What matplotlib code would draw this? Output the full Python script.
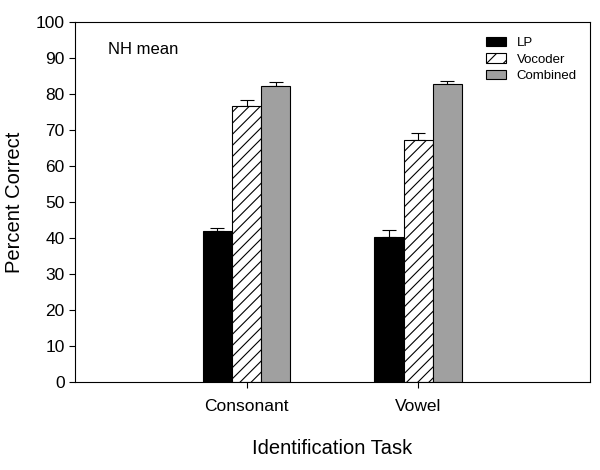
import matplotlib
matplotlib.use("Agg")
import matplotlib.pyplot as plt
import numpy as np
from matplotlib.patches import Patch

plt.rcParams['font.family'] = ['Liberation Sans', 'DejaVu Sans']
plt.rcParams['hatch.linewidth'] = 0.8

tasks = ["Consonant", "Vowel"]
conditions = ["LP", "Vocoder", "Combined"]
means = {
    "LP": [41.9, 40.3],
    "Vocoder": [76.7, 67.2],
    "Combined": [82.2, 82.7],
}
errs = {
    "LP": [0.9, 1.9],
    "Vocoder": [1.6, 2.1],
    "Combined": [1.2, 1.0],
}

colors = {"LP": "black", "Vocoder": "white", "Combined": "#a0a0a0"}
hatches = {"LP": None, "Vocoder": "///", "Combined": None}

fig = plt.figure(figsize=(6, 4.7), dpi=100)
ax = fig.add_axes([0.125, 0.187, 0.858, 0.766])

x = np.arange(1, len(tasks) + 1)
w = 0.17
for i, c in enumerate(conditions):
    pos = x + (i - 1) * w
    ax.bar(pos, means[c], w, color=colors[c], edgecolor="black", linewidth=0.8,
           hatch=hatches[c], zorder=2)
    ax.errorbar(pos, means[c], yerr=[np.zeros(len(tasks)), errs[c]], fmt="none",
                ecolor="black", elinewidth=0.8, capsize=5, capthick=0.8, zorder=1)

ax.set_xlim(0, 3)
ax.set_ylim(0, 100)
ax.set_yticks(range(0, 101, 10))
ax.set_xticks(x)
ax.set_xticklabels(tasks)
ax.tick_params(labelsize=12.5, direction="out", length=4, width=0.8)
ax.tick_params(axis="x", pad=8)
for s in ax.spines.values():
    s.set_linewidth(0.8)

ax.set_ylabel("Percent Correct", fontsize=14.5, labelpad=8)
ax.set_xlabel("Identification Task", fontsize=14.5, labelpad=18)
ax.text(0.064, 0.925, "NH mean", transform=ax.transAxes, fontsize=12,
        va="center", ha="left")

handles = [Patch(facecolor=colors[c], edgecolor="black", linewidth=0.8,
                 hatch="//" if hatches[c] else None, label=c) for c in conditions]
ax.legend(handles=handles, loc="upper right", frameon=False, fontsize=9.5,
          handlelength=1.5, handleheight=0.7, labelspacing=0.3,
          bbox_to_anchor=(0.99, 0.98), borderaxespad=0.2)

fig.savefig("out.png", dpi=100)
